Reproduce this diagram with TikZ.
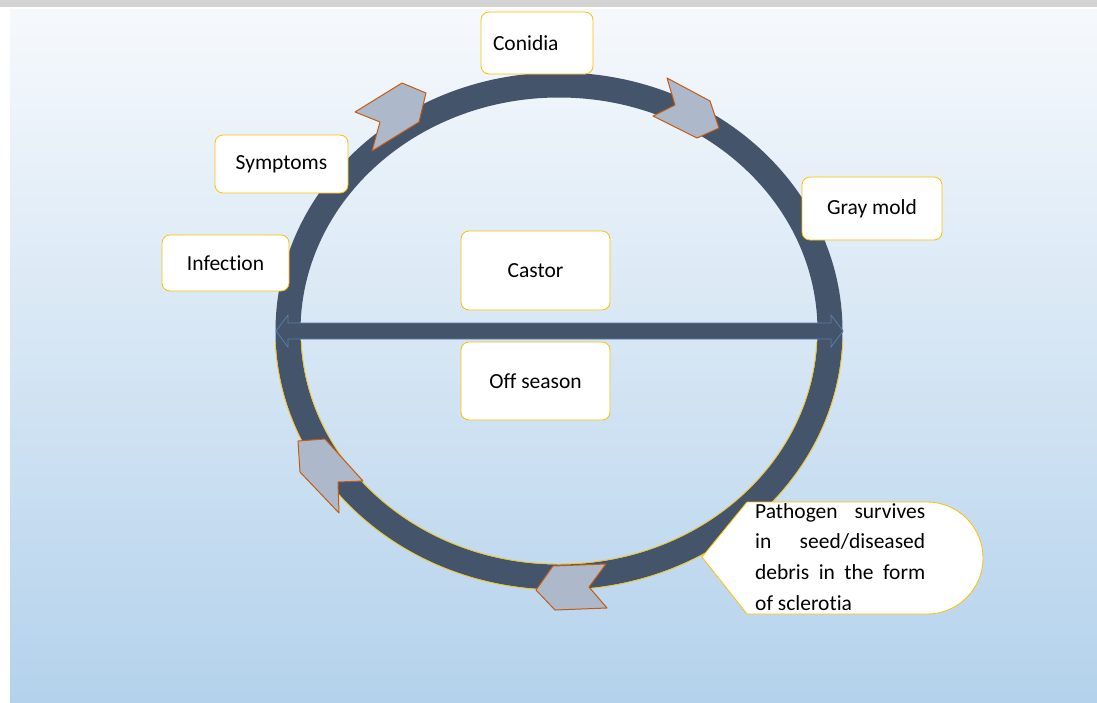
\documentclass[tikz,border=0pt]{standalone}
\usepackage{fontspec}
\setmainfont{Carlito}[Ligatures={NoCommon}]
\usetikzlibrary{calc}
\definecolor{ringblue}{HTML}{44546A}
\definecolor{barline}{HTML}{5A7EAB}
\definecolor{chevfill}{HTML}{ADB9CA}
\definecolor{chevline}{HTML}{C55A11}
\definecolor{boxline}{HTML}{FFC000}
\definecolor{bgtop}{HTML}{F6F9FC}
\definecolor{bgbot}{HTML}{B4D2EC}
\definecolor{bandgrey}{HTML}{D3D3D3}

\begin{document}
\begin{tikzpicture}[x=1pt,y=-1pt,
  stagebox/.style={draw=boxline,line width=0.8pt,fill=white,rounded corners=8pt,
    font=\fontsize{21.5}{26}\selectfont,inner sep=0pt},
  chevron/.style={fill=chevfill,draw=chevline,line width=1pt,line join=round},
  ringline/.style={draw=ringblue,line width=25pt},
  ringedge/.style={draw=boxline,line width=0.9pt,opacity=0.8},
  barshape/.style={fill=ringblue,draw=barline,line width=0.8pt}]
\useasboundingbox (0,0) rectangle (1097,702);
% background
\fill[white] (0,0) rectangle (1097,702);
\fill[bandgrey] (0,0) rectangle (1097,7);
\shade[top color=bgtop,bottom color=bgbot] (10,9) rectangle (1097,702);

% cycle ring
\draw[ringline] (559,331) ellipse [x radius=271, y radius=246];
\begin{scope}
  \clip (0,342) rectangle (1097,702);
  \draw[ringedge] (559,331) ellipse [x radius=284, y radius=259];
  \draw[ringedge] (559,331) ellipse [x radius=258, y radius=233];
\end{scope}

% bar across
\coordinate (barL) at (276,331);
\coordinate (barR) at (843,331);
\draw[barshape] (barL) -- ++(12,-16) -- ++(0,8) -- ($(barR)+(-12,-8)$) -- ++(0,-8)
  -- (barR) -- ++(-12,16) -- ++(0,-8) -- ($(barL)+(12,8)$) -- ++(0,8) -- cycle;

% chevrons on the ring
\draw[chevron] (355,112) -- (402,83) -- (426,93) -- (419,122) -- (372,151) -- (380,122) -- cycle;
\draw[chevron] (667,78) -- (710,101) -- (719,128) -- (697,138) -- (653,116) -- (675,105) -- cycle;
\draw[chevron] (298,441) -- (325,439) -- (363,481) -- (338,482) -- (339,513) -- (300,472) -- cycle;
\draw[chevron] (553,566) -- (606,564) -- (589,587) -- (607,608) -- (555,610) -- (536,590) -- cycle;

% stages
\node[stagebox,text width=88pt,align=left,minimum height=62pt,inner xsep=12pt] (conidia) at (537,43) {Conidia};
\node[stagebox,minimum width=133pt,minimum height=58pt] (symptoms) at (281.5,164) {Symptoms};
\node[stagebox,minimum width=140pt,minimum height=63pt] (graymold) at (872,208.5) {Gray mold};
\node[stagebox,minimum width=127pt,minimum height=56pt] (infection) at (225.5,263) {Infection};
\node[stagebox,minimum width=149pt,minimum height=79pt] (castor) at (535.5,270.5) {Castor};
\node[stagebox,minimum width=149pt,minimum height=78pt] (offseason) at (535.5,381) {Off season};

% callout
\draw[draw=boxline,line width=0.8pt,fill=white] (702,557) -- (747,502) -- (927,502)
  arc[start angle=-90,end angle=90,radius=56] -- (747,614) -- cycle;
\node[anchor=north west,text width=170pt,align=justify,inner sep=0pt,
  font=\fontsize{21.5}{30.7}\selectfont] (survival) at (755,503)
  {\hyphenpenalty=10000 Pathogen survives in seed/diseased debris in the form of sclerotia};
\end{tikzpicture}
\end{document}
